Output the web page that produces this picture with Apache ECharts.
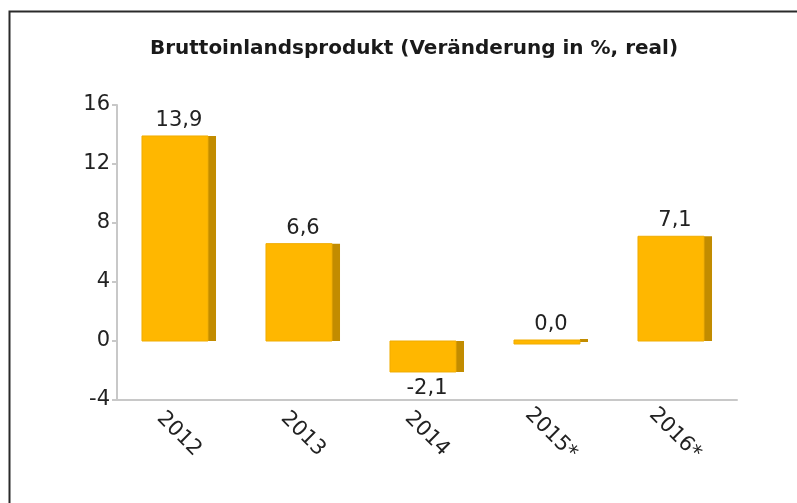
<!DOCTYPE html>
<html>
<head>
<meta charset="utf-8">
<script src="https://cdn.jsdelivr.net/npm/echarts@6/dist/echarts.min.js"></script>
<style>
html,body{margin:0;padding:0;background:#fff;}
#chart{width:797px;height:503px;}
</style>
</head>
<body>
<div id="chart"></div>
<script>
var categories = ['2012', '2013', '2014', '2015*', '2016*'];
var values = [13.9, 6.6, -2.1, 0.0, 7.1];
var yMin = -4, yMax = 16, yStep = 4;
var titleText = 'Bruttoinlandsprodukt (Veränderung in %, real)';

var chart = echarts.init(document.getElementById('chart'), null, {renderer: 'canvas'});
var font = 'DejaVu Sans';

function fmt(v) { return v.toFixed(1).replace('.', ','); }

function renderItem(params, api) {
  var i = api.value(0), v = api.value(1);
  var top = api.coord([i, v]);
  var base = api.coord([i, 0]);
  var band = api.size([1, 0])[0];
  var fw = band * 0.532, sw = band * 0.065;
  var x0 = top[0] - (fw + sw) / 2;
  var y1 = Math.min(top[1], base[1]);
  var h = Math.abs(top[1] - base[1]);
  var flat = h < 3;
  if (flat) { h = 4; y1 = base[1] - 1; }
  var neg = v < 0;
  return {
    type: 'group',
    children: [
      {type: 'rect', shape: {x: x0 + fw, y: flat ? y1 - 1 : y1, width: sw, height: flat ? 3 : h},
        style: {fill: '#c28c00'}},
      {type: 'rect', shape: {x: x0, y: y1, width: fw, height: h},
        style: {fill: '#ffb700', stroke: '#f0ac00', lineWidth: 1}},
      {type: 'text', x: top[0], y: neg ? y1 + h + 6 : y1 - 5,
        style: {text: fmt(v), fill: '#222', font: '21px "DejaVu Sans"',
          textAlign: 'center', textVerticalAlign: neg ? 'top' : 'bottom'}}
    ]
  };
}

chart.setOption({
  animation: false,
  backgroundColor: '#ffffff',
  title: {
    text: titleText,
    left: 409, top: 34, textAlign: 'center',
    textStyle: {fontFamily: font, fontSize: 20, fontWeight: 'bold', color: '#1a1a1a'}
  },
  graphic: [{
    type: 'rect', left: 7, top: 9,
    shape: {width: 820, height: 520},
    style: {fill: 'none', stroke: '#2a2a2a', lineWidth: 2}
  }],
  grid: {left: 117, right: 60, top: 105, bottom: 103, containLabel: false},
  xAxis: {
    type: 'category', data: categories,
    axisLine: {onZero: false, lineStyle: {color: '#c8c8c8', width: 2}},
    axisTick: {length: 4, lineStyle: {color: '#c8c8c8', width: 2}},
    axisLabel: {rotate: -45, align: 'center', verticalAlign: 'middle', margin: 34,
      fontFamily: font, fontSize: 21, color: '#222'}
  },
  yAxis: {
    type: 'value', min: yMin, max: yMax, interval: yStep,
    splitLine: {show: false},
    axisLine: {show: true, lineStyle: {color: '#c8c8c8', width: 2}},
    axisTick: {show: true, length: 5, lineStyle: {color: '#c8c8c8', width: 2}},
    axisLabel: {margin: 7, fontFamily: font, fontSize: 21, color: '#222'}
  },
  series: [{
    type: 'custom',
    renderItem: renderItem,
    data: values.map(function (v, i) { return [i, v]; }),
    encode: {x: 0, y: 1}
  }]
});
</script>
</body>
</html>
